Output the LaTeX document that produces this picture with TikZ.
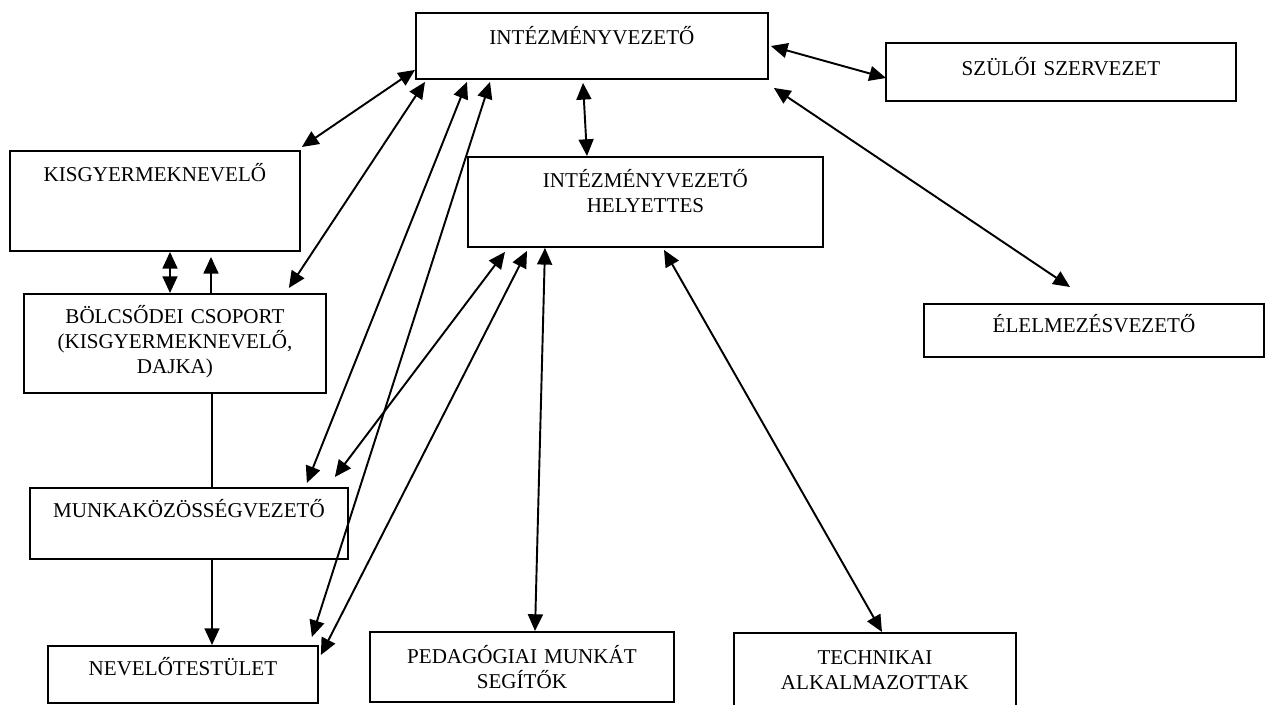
\documentclass[tikz,border=0pt]{standalone}
\usepackage{fontspec}
\setmainfont{Liberation Serif}
\usetikzlibrary{arrows.meta,calc}

\begin{document}
\begin{tikzpicture}[x=0.02cm, y=-0.02cm,
    box/.style={draw, line width=1.1pt, inner sep=0pt, anchor=north west, align=center, font=\fontsize{12}{14.2}\selectfont},
    link/.style={{Triangle[length=9.5pt,width=8.5pt]}-{Triangle[length=9.5pt,width=8.5pt]}, line width=1.1pt},
    oneway/.style={-{Triangle[length=9.5pt,width=8.5pt]}, line width=1.1pt},
    plain/.style={line width=1.1pt}]
  \useasboundingbox (0,0) rectangle (1265,705);

  % Vezetés
  \node[box, text width=7.04cm, text height=0.64cm, text depth=0.68cm] (intez) at (415,12) {INTÉZMÉNYVEZETŐ};
  \node[box, text width=7cm, text height=0.66cm, text depth=0.5cm] (szuloi) at (885,42) {SZÜLŐI SZERVEZET};
  \node[box, text width=7.1cm, text height=0.62cm, text depth=1.18cm] (helyettes) at (467,156) {INTÉZMÉNYVEZETŐ\\HELYETTES};
  \node[box, text width=6.8cm, text height=0.58cm, text depth=0.48cm] (elelmezes) at (923,303) {ÉLELMEZÉSVEZETŐ};

  % Bal oldali oszlop
  \node[box, text width=5.8cm, text height=0.62cm, text depth=1.38cm] (kisgy) at (9,150) {KISGYERMEKNEVELŐ};
  \node[box, text width=6.04cm, text height=0.6cm, text depth=1.38cm] (bolcsode) at (23,293) {BÖLCSŐDEI CSOPORT\\(KISGYERMEKNEVELŐ,\\DAJKA)};
  \node[box, text width=6.36cm, text height=0.6cm, text depth=0.82cm] (munka) at (29,487) {MUNKAKÖZÖSSÉGVEZETŐ};
  \node[box, text width=5.4cm, text height=0.6cm, text depth=0.54cm] (testulet) at (47,645) {NEVELŐTESTÜLET};

  % Alsó sor
  \node[box, text width=6.08cm, text height=0.64cm, text depth=0.76cm] (segitok) at (369,631) {PEDAGÓGIAI MUNKÁT\\SEGÍTŐK};
  \node[box, text width=5.64cm, text height=0.64cm, text depth=0.96cm] (technikai) at (733,632) {TECHNIKAI\\ALKALMAZOTTAK};

  % Kapcsolatok az intézményvezetőtől
  \draw[link] ($(intez.south west)+(0,-10)$) -- ($(kisgy.north east)+(1,-3)$);
  \draw[link] ($(intez.south west)+(10,2)$) -- ($(bolcsode.north east)+(-38,-5)$);
  \draw[link] ($(intez.south west)+(52,2)$) -- ($(munka.north east)+(-42,-4)$);
  \draw[link] ($(intez.south west)+(75,2)$) -- ($(testulet.north east)+(-7,-8)$);
  \draw[link] ($(intez.south west)+(168,3)$) -- ($(helyettes.north west)+(120,0)$);
  \draw[link] ($(intez.north east)+(2,34)$) -- ($(szuloi.north west)+(1,36)$);
  \draw[link] ($(intez.south east)+(5,8)$) -- ($(elelmezes.north west)+(147,-16)$);

  % Kapcsolatok a helyettestől
  \draw[link] ($(helyettes.south west)+(38,4)$) -- ($(munka.north east)+(-14,-10)$);
  \draw[link] ($(helyettes.south west)+(60,3)$) -- ($(testulet.north east)+(2,10)$);
  \draw[link] ($(helyettes.south west)+(78,0)$) -- ($(segitok.north west)+(166,0)$);
  \draw[link] ($(helyettes.south west)+(197,2)$) -- ($(technikai.north west)+(149,0)$);

  % Bal oldali oszlop kapcsolatai
  \draw[link] ($(kisgy.south west)+(161,0)$) -- ($(bolcsode.north west)+(147,0)$);
  \draw[oneway] ($(bolcsode.north west)+(188,0)$) -- ($(kisgy.south west)+(202,5)$);
  \draw[plain] ($(bolcsode.south west)+(189,0)$) -- ($(munka.north west)+(183,0)$);
  \draw[oneway] ($(munka.south west)+(183,0)$) -- ($(testulet.north west)+(165,0)$);
\end{tikzpicture}
\end{document}
